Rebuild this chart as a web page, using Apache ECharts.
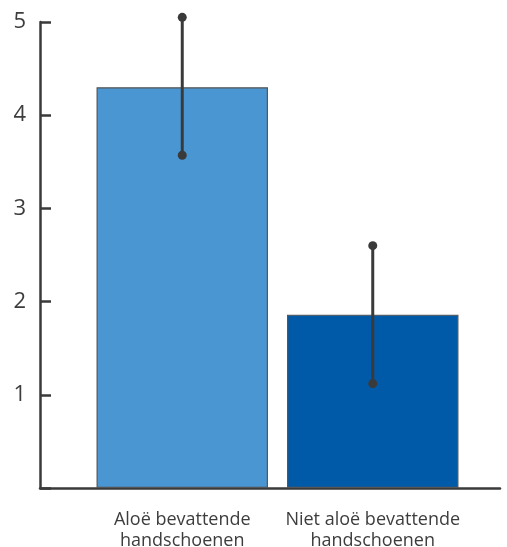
<!DOCTYPE html>
<html><head><meta charset="utf-8">
<script src="https://cdn.jsdelivr.net/npm/echarts@6/dist/echarts.min.js"></script>
<style>html,body{margin:0;padding:0;background:#fff}#c{width:507px;height:547px}</style>
</head><body><div id="c"></div>
<script>
const categories = ['Aloë bevattende\nhandschoenen', 'Niet aloë bevattende\nhandschoenen'];
const means = [4.30, 1.86];
const errLow = [3.57, 1.12];
const errHigh = [5.05, 2.60];
const yTicks = [0, 1, 2, 3, 4, 5];
const barColors = ['#4a96d2', '#005aa8'];

const chart = echarts.init(document.getElementById('c'));
chart.setOption({
  animation: false,
  grid: [
    {left: 40, right: 7, top: 22, bottom: 59, outerBoundsMode: 'none', containLabel: false},
    {left: 87, right: 39, top: 22, bottom: 59, outerBoundsMode: 'none', containLabel: false}
  ],
  xAxis: [
    {type: 'value', gridIndex: 0, min: 0, max: 1, axisLine: {show: true, onZero: false, lineStyle: {color: '#3a3a3a', width: 2.5}},
     axisTick: {show: false}, axisLabel: {show: false}, splitLine: {show: false}},
    {type: 'category', gridIndex: 1, data: categories, axisLine: {show: false}, axisTick: {show: false},
     axisLabel: {color: '#3d3d3d', fontSize: 18, fontFamily: 'Open Sans', lineHeight: 21, margin: 21,
       interval: 0, hideOverlap: false}}
  ],
  yAxis: [
    {type: 'value', gridIndex: 0, min: yTicks[0], max: yTicks[yTicks.length - 1], interval: 1,
     axisLine: {show: true, lineStyle: {color: '#3a3a3a', width: 2.5}},
     axisTick: {show: true, inside: true, length: 11, lineStyle: {color: '#3a3a3a', width: 2.5}},
     axisLabel: {color: '#3d3d3d', fontSize: 22, fontFamily: 'Open Sans', margin: 14,
       formatter: v => v === 0 ? '' : String(v)},
     splitLine: {show: false}},
    {type: 'value', gridIndex: 1, min: 0, max: 5, show: false}
  ],
  series: [
    {type: 'bar', xAxisIndex: 1, yAxisIndex: 1, barWidth: '90%',
     data: means.map((v, i) => ({value: v, itemStyle: {color: barColors[i]}})),
     itemStyle: {borderColor: '#555', borderWidth: 1.2}},
    {type: 'custom', xAxisIndex: 1, yAxisIndex: 1, clip: false, z: 10,
     data: means.map((v, i) => [i, errLow[i], errHigh[i]]),
     renderItem: (params, api) => {
       const lo = api.coord([api.value(0), api.value(1)]);
       const hi = api.coord([api.value(0), api.value(2)]);
       const c = '#3a3a3a';
       return {type: 'group', children: [
         {type: 'line', shape: {x1: hi[0], y1: hi[1], x2: lo[0], y2: lo[1]}, style: {stroke: c, lineWidth: 3}},
         {type: 'circle', shape: {cx: hi[0], cy: hi[1], r: 4.5}, style: {fill: c}},
         {type: 'circle', shape: {cx: lo[0], cy: lo[1], r: 4.5}, style: {fill: c}}
       ]};
     }}
  ]
});
</script></body></html>
